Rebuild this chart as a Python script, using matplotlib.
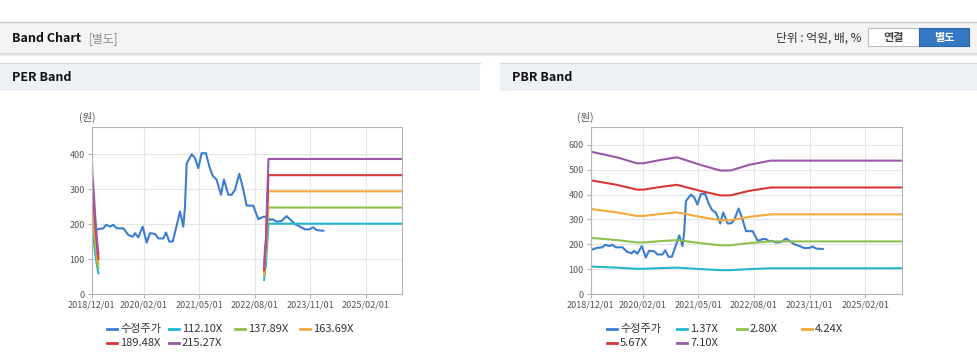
import numpy as np
import matplotlib.pyplot as plt
import matplotlib.dates as mdates
import pandas as pd
from matplotlib.lines import Line2D
from matplotlib.patches import Rectangle

plt.rcParams['font.family'] = ['Noto Sans CJK KR', 'DejaVu Sans']

W, H = 978, 362

# 수정주가 (same series in both charts)
price_dates = ['2018-12-01', '2018-12-25', '2019-01-25', '2019-03-07', '2019-03-29', '2019-05-01',
               '2019-05-28', '2019-06-24', '2019-07-22', '2019-08-18', '2019-09-28', '2019-11-03',
               '2019-11-22', '2019-12-19', '2020-01-24', '2020-02-26', '2020-03-24', '2020-05-04',
               '2020-06-01', '2020-07-12', '2020-08-03', '2020-08-30', '2020-09-27', '2020-10-29',
               '2020-11-26', '2020-12-23', '2021-01-06', '2021-01-20', '2021-03-02', '2021-03-29',
               '2021-04-25', '2021-05-23', '2021-06-27', '2021-07-25', '2021-08-21', '2021-09-23',
               '2021-10-29', '2021-11-22', '2021-12-28', '2022-01-24', '2022-02-21', '2022-03-28',
               '2022-04-25', '2022-05-28', '2022-07-21', '2022-09-01', '2022-10-12', '2022-11-08',
               '2022-12-05', '2022-12-27', '2023-01-29', '2023-03-11', '2023-04-21', '2023-05-19',
               '2023-06-29', '2023-08-09', '2023-09-19', '2023-10-25', '2023-11-26', '2023-12-24',
               '2024-02-17']
price_vals = [177, 181, 186, 188, 198, 193, 198, 188, 188, 188, 169, 164,
              174, 162, 193, 147, 174, 172, 159, 159, 176, 150, 150, 195,
              236, 193, 250, 374, 400, 389, 360, 403, 403, 365, 339, 327,
              284, 328, 284, 284, 298, 344, 307, 253, 253, 214, 221, 221,
              212, 214, 207, 209, 223, 214, 200, 193, 185, 185, 191, 183,
              181]

# PER band: EPS per period and multiples
per_multiples = [112.10, 137.89, 163.69, 189.48, 215.27]
per_labels = ['112.10X', '137.89X', '163.69X', '189.48X', '215.27X']
eps_dates_a = ['2018-12-01', '2018-12-08', '2018-12-15', '2018-12-22', '2018-12-29',
               '2019-01-05', '2019-01-12', '2019-01-19', '2019-01-26']
eps_a = [1.83, 1.55, 1.42, 1.25, 1.05, 0.90, 0.76, 0.62, 0.53]
eps_dates_b = ['2022-10-19', '2022-10-26', '2022-11-02', '2022-11-09', '2022-11-16',
               '2022-11-23', '2025-11-25']
eps_b = [0.36, 0.62, 0.72, 1.10, 1.43, 1.795, 1.795]

# PBR band: BPS and multiples
pbr_multiples = [1.37, 2.80, 4.24, 5.67, 7.10]
pbr_labels = ['1.37X', '2.80X', '4.24X', '5.67X', '7.10X']
bps_dates = ['2018-12-01', '2019-07-03', '2019-12-15', '2020-02-07', '2020-06-24', '2020-11-08',
             '2021-05-19', '2021-10-30', '2022-01-21', '2022-06-21', '2022-12-16', '2025-11-25']
bps_vals = [80.7, 77.5, 74.1, 74.1, 76.0, 77.5, 73.2, 70.0, 70.0, 73.2, 75.6, 75.6]

tick_dates = ['2018-12-01', '2020-02-01', '2021-05-01', '2022-08-01', '2023-11-01', '2025-02-01']
x_start, x_end = '2018-12-01', '2025-11-25'

price_color = '#3b7dd0'
band_colors = ['#22b7cc', '#8fc04f', '#f5a93a', '#d8373a', '#9b58a9']


def fx(x):
    return x / W


def fy(y):
    return 1 - y / H


fig = plt.figure(figsize=(W / 100, H / 100), dpi=100)
fig.patch.set_facecolor('white')

# top header bar
fig.patches.append(Rectangle((0, fy(52)), 1, 30 / H, transform=fig.transFigure,
                             facecolor='#f4f4f4', edgecolor='none', zorder=0))
fig.add_artist(Line2D([0, 1], [fy(22), fy(22)], color='#c8c8c8', lw=1))
for i, c in enumerate(['#d4d4d4', '#e2e2e2', '#efefef']):
    fig.add_artist(Line2D([0, 1], [fy(52.5 + i), fy(52.5 + i)], color=c, lw=1))
fig.text(fx(12), fy(38), 'Band Chart', fontsize=9, fontweight='bold', color='#111', va='center')
fig.text(fx(89), fy(38.5), '[별도]', fontsize=8.5, color='#8a8a8a', va='center')
fig.text(fx(862), fy(38), '단위 : 억원, 배, %', fontsize=8.5, color='#333', va='center', ha='right')
fig.patches.append(Rectangle((fx(868), fy(46)), 51 / W, 18 / H, transform=fig.transFigure,
                             facecolor='white', edgecolor='#bdbdbd', lw=0.8))
fig.text(fx(893.5), fy(37.5), '연결', fontsize=8, fontweight='bold', color='#444', va='center', ha='center')
fig.patches.append(Rectangle((fx(919), fy(46)), 50 / W, 18 / H, transform=fig.transFigure,
                             facecolor='#3478c4', edgecolor='#2a66aa', lw=0.8))
fig.text(fx(944), fy(37.5), '별도', fontsize=8, fontweight='bold', color='white', va='center', ha='center')

# panel headers
for x0, x1, title in [(0, 480, 'PER Band'), (500, 978, 'PBR Band')]:
    fig.patches.append(Rectangle((fx(x0), fy(91)), (x1 - x0) / W, 28 / H, transform=fig.transFigure,
                                 facecolor='#eef2f7', edgecolor='none', zorder=0))
    fig.add_artist(Line2D([fx(x0), fx(x1)], [fy(63), fy(63)], color='#dcdcdc', lw=1))
    fig.text(fx(x0 + 12), fy(77.5), title, fontsize=9, fontweight='bold', color='#111', va='center')

pd_price = pd.to_datetime(price_dates)


def style_axis(ax, ymax, yticks):
    ax.set_xlim(pd.Timestamp(x_start), pd.Timestamp(x_end))
    ax.set_ylim(0, ymax)
    ax.set_yticks(yticks)
    ax.set_xticks(pd.to_datetime(tick_dates))
    ax.xaxis.set_major_formatter(mdates.DateFormatter('%Y/%m/%d'))
    ax.grid(True, color='#e6e6e6', lw=0.8)
    ax.set_axisbelow(True)
    for s in ax.spines.values():
        s.set_color('#b4b4b4')
        s.set_linewidth(0.8)
    ax.tick_params(axis='both', length=3, width=0.8, color='#b4b4b4',
                   labelsize=6.5, labelcolor='#555', pad=2)


# PER chart
ax1 = fig.add_axes([fx(91.7), fy(294), 310.3 / W, 167 / H])
ax1.plot(pd_price, price_vals, color=price_color, lw=1.5)
for m, c in zip(per_multiples, band_colors):
    ax1.plot(pd.to_datetime(eps_dates_a), np.array(eps_a) * m, color=c, lw=1.5)
    ax1.plot(pd.to_datetime(eps_dates_b), np.array(eps_b) * m, color=c, lw=1.5)
style_axis(ax1, 478, [0, 100, 200, 300, 400])
fig.text(fx(87), fy(117), '(원)', fontsize=7.5, color='#555', ha='center', va='center')

# PBR chart
ax2 = fig.add_axes([fx(590.7), fy(294), 311 / W, 166.7 / H])
ax2.plot(pd_price, price_vals, color=price_color, lw=1.5)
for m, c in zip(pbr_multiples, band_colors):
    ax2.plot(pd.to_datetime(bps_dates), np.array(bps_vals) * m, color=c, lw=1.5)
style_axis(ax2, 671, [0, 100, 200, 300, 400, 500, 600])
fig.text(fx(585), fy(117), '(원)', fontsize=7.5, color='#555', ha='center', va='center')


# legends drawn as flow layout like the original
def draw_legend(labels, positions):
    for (x, y), lab, c in zip(positions, labels, [price_color] + band_colors):
        fig.add_artist(Line2D([fx(x), fx(x + 10)], [fy(y), fy(y)], color=c, lw=2))
        fig.text(fx(x + 13), fy(y), lab, fontsize=8, color='#333', va='center')


draw_legend(['수정주가'] + per_labels,
            [(107, 329), (169, 329), (235, 329), (300, 329), (107, 343), (169, 343)])
draw_legend(['수정주가'] + pbr_labels,
            [(607, 329), (677, 329), (737, 329), (802, 329), (607, 343), (677, 343)])

fig.savefig('out.png', dpi=100)
